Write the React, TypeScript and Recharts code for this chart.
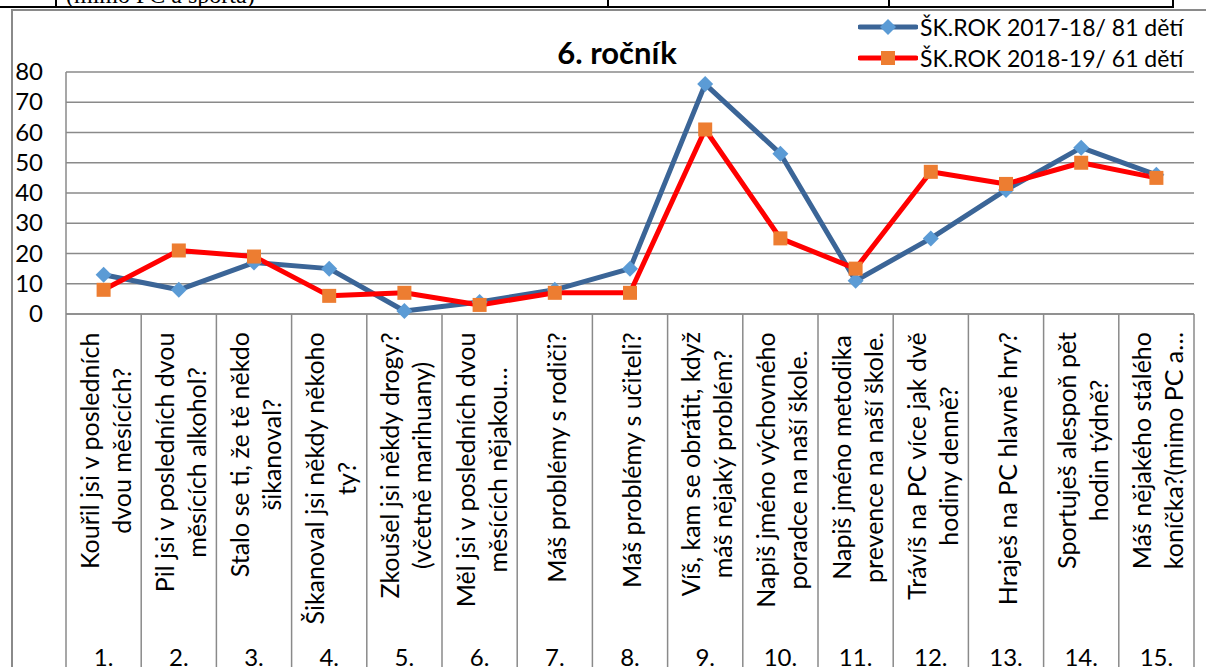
import React from 'react';
import { LineChart, Line, XAxis, YAxis, CartesianGrid, Legend } from 'recharts';

// category numbers shown in the bottom row of the axis
const numbers = ['1.', '2.', '3.', '4.', '5.', '6.', '7.', '8.', '9.', '10.', '11.', '12.', '13.', '14.', '15.'];

// question texts (rotated axis labels), \n = line break as in the original
const questions = [
  'Kouřil jsi v posledních\ndvou měsících?',
  'Pil jsi v posledních dvou\nměsících alkohol?',
  'Stalo se ti, že tě někdo\nšikanoval?',
  'Šikanoval jsi někdy někoho\nty?',
  'Zkoušel jsi někdy drogy?\n(včetně marihuany)',
  'Měl jsi v posledních dvou\nměsících nějakou…',
  'Máš problémy s rodiči?',
  'Máš problémy s učiteli?',
  'Víš, kam se obrátit, když\nmáš nějaký problém?',
  'Napiš jméno výchovného\nporadce na naší škole.',
  'Napiš jméno metodika\nprevence na naší škole.',
  'Trávíš na PC více jak dvě\nhodiny denně?',
  'Hraješ na PC hlavně hry?',
  'Sportuješ alespoň pět\nhodin týdně?',
  'Máš nějakého stálého\nkoníčka?(mimo PC a…',
];

const rok1718 = [13, 8, 17, 15, 1, 4, 8, 15, 76, 53, 11, 25, 41, 55, 46];
const rok1819 = [8, 21, 19, 6, 7, 3, 7, 7, 61, 25, 15, 47, 43, 50, 45];

const seriesNames = ['ŠK.ROK 2017-18/ 81 dětí', 'ŠK.ROK 2018-19/ 61 dětí'];
const yTicks = [0, 10, 20, 30, 40, 50, 60, 70, 80];

const W = 1206;
const H = 667;
const PLOT_LEFT = 66;
const PLOT_RIGHT = 1194;
const PLOT_TOP = 72;
const PLOT_BOTTOM = 314;
const BAND = (PLOT_RIGHT - PLOT_LEFT) / numbers.length;
const FONT = 'Lato, "Noto Sans", sans-serif';
const LABEL_SIZE = 25;
const GRID = '#8a8a8a';
const BLUE = '#3b6597';
const BLUE_MARK = '#5b9bd5';
const RED = '#ff0000';
const ORANGE = '#ed7d31';

const data = numbers.map((n, i) => ({ num: n, q: questions[i], a: rok1718[i], b: rok1819[i] }));

let measureCtx: CanvasRenderingContext2D | null = null;
function textWidth(s: string, size: number) {
  if (!measureCtx) measureCtx = document.createElement('canvas').getContext('2d');
  if (!measureCtx) return s.length * size * 0.5;
  measureCtx.font = `${size}px ${FONT}`;
  return measureCtx.measureText(s).width;
}

function XTick(props: any) {
  const { x, index, payload } = props;
  const lines = (data[index]?.q || '').split('\n');
  const w = Math.max(...lines.map((l: string) => textWidth(l, LABEL_SIZE)));
  const cy = PLOT_BOTTOM + 18 + w / 2;
  const lh = 32;
  return (
    <g>
      <line x1={x - BAND / 2} x2={x - BAND / 2} y1={PLOT_BOTTOM} y2={H} stroke={GRID} strokeWidth={1.5} />
      {index === numbers.length - 1 && (
        <line x1={x + BAND / 2} x2={x + BAND / 2} y1={PLOT_BOTTOM} y2={H} stroke={GRID} strokeWidth={1.5} />
      )}
      <text transform={`translate(${x + 2},${cy}) rotate(-90)`} textAnchor="middle"
        fontSize={LABEL_SIZE} fontFamily={FONT} fill="#000">
        {lines.map((l: string, i: number) => (
          <tspan key={i} x={0} y={(i - (lines.length - 1) / 2) * lh + LABEL_SIZE * 0.36}>{l}</tspan>
        ))}
      </text>
      <text x={x} y={H - 1} textAnchor="middle" fontSize={24} fontFamily={FONT} fill="#000">
        {payload.value}
      </text>
    </g>
  );
}

function YTick(props: any) {
  const { y, payload } = props;
  return (
    <text x={43} y={y + 8} textAnchor="end" fontSize={24} fontFamily={FONT} fill="#000">
      {payload.value}
    </text>
  );
}

function Diamond(props: any) {
  const { cx, cy, index } = props;
  const r = 8;
  return <path key={`d${index}`} d={`M${cx},${cy - r}L${cx + r},${cy}L${cx},${cy + r}L${cx - r},${cy}Z`} fill={BLUE_MARK} />;
}

function Square(props: any) {
  const { cx, cy, index } = props;
  return <rect key={`s${index}`} x={cx - 7} y={cy - 7} width={14} height={14} fill={ORANGE} />;
}

function LegendContent() {
  const rows = [
    { name: seriesNames[0], line: BLUE, mark: 'diamond' },
    { name: seriesNames[1], line: RED, mark: 'square' },
  ];
  return (
    <div style={{ fontFamily: FONT, fontSize: 23, color: '#000' }}>
      {rows.map(r => (
        <div key={r.name} style={{ display: 'flex', alignItems: 'center', height: 31, whiteSpace: 'nowrap' }}>
          <svg width={60} height={20} style={{ marginRight: 2 }}>
            <line x1={2} x2={58} y1={10} y2={10} stroke={r.line} strokeWidth={5} strokeLinecap="round" />
            {r.mark === 'diamond'
              ? <path d="M30,2L38,10L30,18L22,10Z" fill={BLUE_MARK} />
              : <rect x={23} y={3} width={14} height={14} fill={ORANGE} />}
          </svg>
          <span>{r.name}</span>
        </div>
      ))}
    </div>
  );
}

export default function App() {
  return (
    <div style={{ position: 'absolute', left: 0, top: 0, width: W, height: H, background: '#fff', overflow: 'hidden' }}>
      {/* remains of the table row above the chart */}
      <div style={{ position: 'absolute', left: 66, top: 0, height: 6, overflow: 'hidden', width: 400 }}>
        <div style={{ fontFamily: '"Liberation Serif", serif', fontSize: 24, lineHeight: '24px', marginTop: -17, whiteSpace: 'nowrap' }}>
          (mimo PC a sporta)
        </div>
      </div>
      <div style={{ position: 'absolute', left: 0, top: 6, width: 1174, height: 2, background: '#000' }} />
      {[55, 607, 888, 1172].map(x => (
        <div key={x} style={{ position: 'absolute', left: x, top: 0, width: 2, height: 7, background: '#000' }} />
      ))}
      {/* chart frame */}
      <div style={{ position: 'absolute', left: 11, top: 9, width: W - 11, height: 1.5, background: GRID }} />
      <div style={{ position: 'absolute', left: 11, top: 9, width: 1.5, height: H - 9, background: GRID }} />

      <div style={{ position: 'absolute', left: 467, top: 32, width: 300, textAlign: 'center',
        fontFamily: FONT, fontWeight: 700, fontSize: 31, lineHeight: '40px', color: '#000' }}>
        6. ročník
      </div>

      <LineChart width={W} height={H} data={data}
        margin={{ top: PLOT_TOP, right: W - PLOT_RIGHT, bottom: 0, left: 0 }}
        style={{ position: 'absolute', left: 0, top: 0 }}>
        <CartesianGrid vertical={false} stroke={GRID} strokeWidth={1.5} />
        <XAxis dataKey="num" height={H - PLOT_BOTTOM} interval={0} tickLine={false}
          axisLine={{ stroke: GRID, strokeWidth: 1.5 }} padding={{ left: BAND / 2, right: BAND / 2 }}
          tick={(p: any) => <XTick {...p} />} />
        <YAxis width={PLOT_LEFT} domain={[0, 80]} ticks={yTicks} interval={0} tickLine={false}
          axisLine={{ stroke: GRID, strokeWidth: 1.5 }} tick={(p: any) => <YTick {...p} />} />
        <Legend layout="vertical" align="center" verticalAlign="middle" content={() => <LegendContent />}
          wrapperStyle={{ top: 11, left: 858, right: 'auto', bottom: 'auto', width: 345 }} />
        <Line dataKey="a" name={seriesNames[0]} stroke={BLUE} strokeWidth={5} strokeLinejoin="round"
          dot={(p: any) => <Diamond {...p} />} activeDot={false} isAnimationActive={false} />
        <Line dataKey="b" name={seriesNames[1]} stroke={RED} strokeWidth={5} strokeLinejoin="round"
          dot={(p: any) => <Square {...p} />} activeDot={false} isAnimationActive={false} />
      </LineChart>
    </div>
  );
}
